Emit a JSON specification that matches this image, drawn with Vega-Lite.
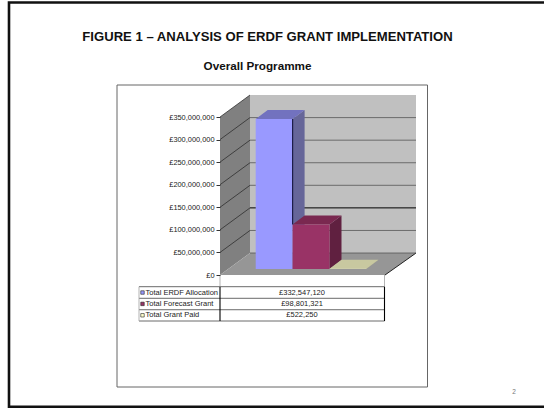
{
"$schema":"https://vega.github.io/schema/vega-lite/v6.json",
"width":544,"height":408,"autosize":{"type":"none"},"padding":0,
"background":"white",
"title":{"text":"FIGURE 1 – ANALYSIS OF ERDF GRANT IMPLEMENTATION","font":"Liberation Sans","fontSize":13.1,"fontWeight":"bold","color":"#111111","anchor":"middle","dx":-4.5,"offset":-44},
"datasets":{
"bars":[
{"series":"Total ERDF Allocation","value":332547120,"slot":0},
{"series":"Total Forecast Grant","value":98801321,"slot":1},
{"series":"Total Grant Paid","value":522250,"slot":2}],
"ticks":[{"v":0},{"v":50000000},{"v":100000000},{"v":150000000},{"v":200000000},{"v":250000000},{"v":300000000},{"v":350000000}],
"walls":[{"x":220,"y":0,"y2":350000000},{"x":250,"y":48700000,"y2":398700000}],
"floor":[{"y":0,"x":220,"x2":385},{"y":48700000,"x":250,"x2":416}],
"floorEdge":[{"x":385,"x2":416,"y":0,"y2":48700000,"c":"edge"}],
"back":[{"x":250,"x2":416,"y":48700000,"y2":398700000}],
"frames":[{"x":9,"x2":552,"y":603600000,"y2":-291700000,"kind":"slide"},{"x":117,"x2":427.5,"y":420900000,"y2":-248100000,"kind":"chart"}],
"tableH":[{"y":-25900000},{"y":-51600000},{"y":-76900000},{"y":-101900000}],
"tableV":[{"x":220,"y":-25900000,"y2":-101900000,"w":"strong"},{"x":384.5,"y":-25900000,"y2":-101900000,"w":"strong"},{"x":139,"y":-25900000,"y2":-101900000,"w":"soft"},{"x":220,"y":0,"y2":-25900000,"w":"soft"},{"x":384.5,"y":0,"y2":-25900000,"w":"soft"}],
"notes":[{"x":257.5,"y":462000000,"t":"Overall Programme"},{"x":514,"y":-259000000,"t":"2"}]
},
"layer":[
{"data":{"name":"frames"},"transform":[{"filter":"datum.kind=='slide'"}],"mark":{"type":"rect","fill":"white","stroke":"#111111","strokeWidth":2.6},
 "encoding":{"x":{"field":"x","type":"quantitative","scale":{"domain":[0,544],"nice":false,"zero":false},"axis":null},"x2":{"field":"x2"},
 "y":{"field":"y","type":"quantitative","scale":{"domain":[-294600000,609200000],"nice":false,"zero":false},"axis":{"title":null,"zindex":1,"values":[0,50000000,100000000,150000000,200000000,250000000,300000000,350000000],"labelExpr":"'£'+format(datum.value,',')","offset":-220,"domain":false,"grid":false,"tickSize":4,"tickColor":"#333333","labelFont":"Liberation Sans","labelFontSize":7.4,"labelColor":"#222222","labelPadding":2}},"y2":{"field":"y2"}}},
{"data":{"name":"frames"},"transform":[{"filter":"datum.kind=='chart'"}],"mark":{"type":"rect","fill":"white","stroke":"#666666","strokeWidth":1},
 "encoding":{"x":{"field":"x","type":"quantitative","axis":null},"x2":{"field":"x2"},"y":{"field":"y","type":"quantitative","axis":null},"y2":{"field":"y2"}}},
{"data":{"name":"walls"},"mark":{"type":"area","color":"#808080"},
 "encoding":{"x":{"field":"x","type":"quantitative","axis":null},"y":{"field":"y","type":"quantitative","stack":null,"axis":null},"y2":{"field":"y2"}}},
{"data":{"name":"back"},"mark":{"type":"rect","color":"#c0c0c0"},
 "encoding":{"x":{"field":"x","type":"quantitative","axis":null},"x2":{"field":"x2"},"y":{"field":"y","type":"quantitative","axis":null},"y2":{"field":"y2"}}},
{"data":{"name":"floor"},"mark":{"type":"area","orient":"horizontal","color":"#969696"},
 "encoding":{"y":{"field":"y","type":"quantitative","axis":null},"x":{"field":"x","type":"quantitative","stack":null,"axis":null},"x2":{"field":"x2"}}},
{"data":{"name":"floorEdge"},"mark":{"type":"rule","color":"#222222","strokeWidth":1},
 "encoding":{"x":{"field":"x","type":"quantitative","axis":null},"x2":{"field":"x2"},"y":{"field":"y","type":"quantitative","axis":null},"y2":{"field":"y2"}}},
{"data":{"name":"ticks"},"transform":[{"filter":"datum.v<350000000 && datum.v!=100000000"},{"calculate":"datum.v+48700000","as":"by"},{"calculate":"250","as":"xa"},{"calculate":"416","as":"xb"}],"mark":{"type":"rule","color":"#555555","strokeWidth":0.8},
 "encoding":{"x":{"field":"xa","type":"quantitative","axis":null},"x2":{"field":"xb"},"y":{"field":"by","type":"quantitative","axis":null}}},
{"data":{"name":"ticks"},"transform":[{"filter":"datum.v==100000000"},{"calculate":"datum.v+48700000","as":"by"},{"calculate":"250","as":"xa"},{"calculate":"416","as":"xb"}],"mark":{"type":"rule","color":"#000000","strokeWidth":1},
 "encoding":{"x":{"field":"xa","type":"quantitative","axis":null},"x2":{"field":"xb"},"y":{"field":"by","type":"quantitative","axis":null}}},
{"data":{"name":"ticks"},"transform":[{"filter":"datum.v>0"},{"calculate":"datum.v+48700000","as":"by"},{"calculate":"220","as":"xa"},{"calculate":"250","as":"xb"}],"mark":{"type":"rule","color":"#222222","strokeWidth":0.7},
 "encoding":{"x":{"field":"xa","type":"quantitative","axis":null},"x2":{"field":"xb"},"y":{"field":"v","type":"quantitative","axis":null},"y2":{"field":"by"}}},
{"data":{"name":"bars"},"transform":[{"calculate":"[0,1]","as":"t"},{"flatten":["t"]},{"calculate":"255.7+36.9*datum.slot+36.9+12*datum.t","as":"px"},{"calculate":"13300000+19900000*datum.t","as":"py0"},{"calculate":"datum.py0+datum.value","as":"py1"}],
 "mark":{"type":"area"},
 "encoding":{"x":{"field":"px","type":"quantitative","axis":null},"y":{"field":"py0","type":"quantitative","stack":null,"axis":null},"y2":{"field":"py1"},
 "color":{"field":"series","type":"nominal","legend":null,"scale":{"domain":["Total ERDF Allocation","Total Forecast Grant","Total Grant Paid"],"range":["#666699","#602040","#a8a888"]}}}},
{"data":{"name":"bars"},"transform":[{"calculate":"[0,1]","as":"t"},{"flatten":["t"]},{"calculate":"255.7+36.9*datum.slot+12*datum.t","as":"px"},{"calculate":"datum.px+36.9","as":"px2"},{"calculate":"13300000+19900000*datum.t+datum.value","as":"py"}],
 "mark":{"type":"area","orient":"horizontal"},
 "encoding":{"y":{"field":"py","type":"quantitative","axis":null},"x":{"field":"px","type":"quantitative","stack":null,"axis":null},"x2":{"field":"px2"},
 "color":{"field":"series","type":"nominal","legend":null,"scale":{"domain":["Total ERDF Allocation","Total Forecast Grant","Total Grant Paid"],"range":["#7272bf","#7a2850","#c8c8a0"]}}}},
{"data":{"name":"bars"},"transform":[{"calculate":"255.7+36.9*datum.slot","as":"px"},{"calculate":"datum.px+36.9","as":"px2"},{"calculate":"13300000","as":"py0"},{"calculate":"datum.py0+datum.value","as":"py1"}],
 "mark":{"type":"rect"},
 "encoding":{"x":{"field":"px","type":"quantitative","axis":null},"x2":{"field":"px2"},"y":{"field":"py0","type":"quantitative","axis":null},"y2":{"field":"py1"},
 "color":{"field":"series","type":"nominal","legend":null,"scale":{"domain":["Total ERDF Allocation","Total Forecast Grant","Total Grant Paid"],"range":["#9999ff","#993366","#ffffcc"]}}}},
{"data":{"name":"bars"},"transform":[{"filter":"datum.slot==0"},{"calculate":"255.7+36.9","as":"px"},{"calculate":"13300000+98801321","as":"py0"},{"calculate":"13300000+datum.value","as":"py1"}],
 "mark":{"type":"rule","color":"#1d1d4a","strokeWidth":1.2},
 "encoding":{"x":{"field":"px","type":"quantitative","axis":null},"y":{"field":"py0","type":"quantitative","axis":null},"y2":{"field":"py1"}}},
{"data":{"name":"tableH"},"transform":[{"calculate":"139","as":"xa"},{"calculate":"384.5","as":"xb"}],"mark":{"type":"rule","color":"#444444","strokeWidth":0.8},
 "encoding":{"x":{"field":"xa","type":"quantitative","axis":null},"x2":{"field":"xb"},"y":{"field":"y","type":"quantitative","axis":null}}},
{"data":{"name":"tableV"},"transform":[{"filter":"datum.w=='soft'"}],"mark":{"type":"rule","color":"#aaaaaa","strokeWidth":0.9},
 "encoding":{"x":{"field":"x","type":"quantitative","axis":null},"y":{"field":"y","type":"quantitative","axis":null},"y2":{"field":"y2"}}},
{"data":{"name":"tableV"},"transform":[{"filter":"datum.w=='strong'"}],"mark":{"type":"rule","color":"#000000","strokeWidth":1.1},
 "encoding":{"x":{"field":"x","type":"quantitative","axis":null},"y":{"field":"y","type":"quantitative","axis":null},"y2":{"field":"y2"}}},
{"data":{"name":"bars"},"transform":[{"calculate":"142.5","as":"px"},{"calculate":"-38800000-25200000*datum.slot","as":"py"}],
 "mark":{"type":"point","shape":"square","filled":true,"size":12,"stroke":"#222222","strokeWidth":0.6,"opacity":1},
 "encoding":{"x":{"field":"px","type":"quantitative","axis":null},"y":{"field":"py","type":"quantitative","axis":null},
 "fill":{"field":"series","type":"nominal","legend":null,"scale":{"domain":["Total ERDF Allocation","Total Forecast Grant","Total Grant Paid"],"range":["#9999ff","#993366","#ffffcc"]}}}},
{"data":{"name":"bars"},"transform":[{"calculate":"145.5","as":"px"},{"calculate":"-38800000-25200000*datum.slot","as":"py"}],
 "mark":{"type":"text","align":"left","baseline":"middle","font":"Liberation Sans","fontSize":7.5,"color":"#222222"},
 "encoding":{"x":{"field":"px","type":"quantitative","axis":null},"y":{"field":"py","type":"quantitative","axis":null},"text":{"field":"series"}}},
{"data":{"name":"bars"},"transform":[{"calculate":"302","as":"px"},{"calculate":"-38800000-25200000*datum.slot","as":"py"},{"calculate":"'£'+format(datum.value,',')","as":"label"}],
 "mark":{"type":"text","align":"center","baseline":"middle","font":"Liberation Sans","fontSize":7.5,"color":"#222222"},
 "encoding":{"x":{"field":"px","type":"quantitative","axis":null},"y":{"field":"py","type":"quantitative","axis":null},"text":{"field":"label"}}},
{"data":{"name":"notes"},"transform":[{"filter":"datum.t=='Overall Programme'"}],
 "mark":{"type":"text","align":"center","baseline":"middle","font":"Liberation Sans","fontSize":11.7,"fontWeight":"bold","color":"#111111"},
 "encoding":{"x":{"field":"x","type":"quantitative","axis":null},"y":{"field":"y","type":"quantitative","axis":null},"text":{"field":"t"}}},
{"data":{"name":"notes"},"transform":[{"filter":"datum.t=='2'"}],
 "mark":{"type":"text","align":"center","baseline":"middle","font":"Liberation Sans","fontSize":6.5,"color":"#777777"},
 "encoding":{"x":{"field":"x","type":"quantitative","axis":null},"y":{"field":"y","type":"quantitative","axis":null},"text":{"field":"t"}}}
],
"resolve":{"scale":{"color":"independent"},"axis":{"y":"independent"}},
"config":{"view":{"stroke":null}}
}
